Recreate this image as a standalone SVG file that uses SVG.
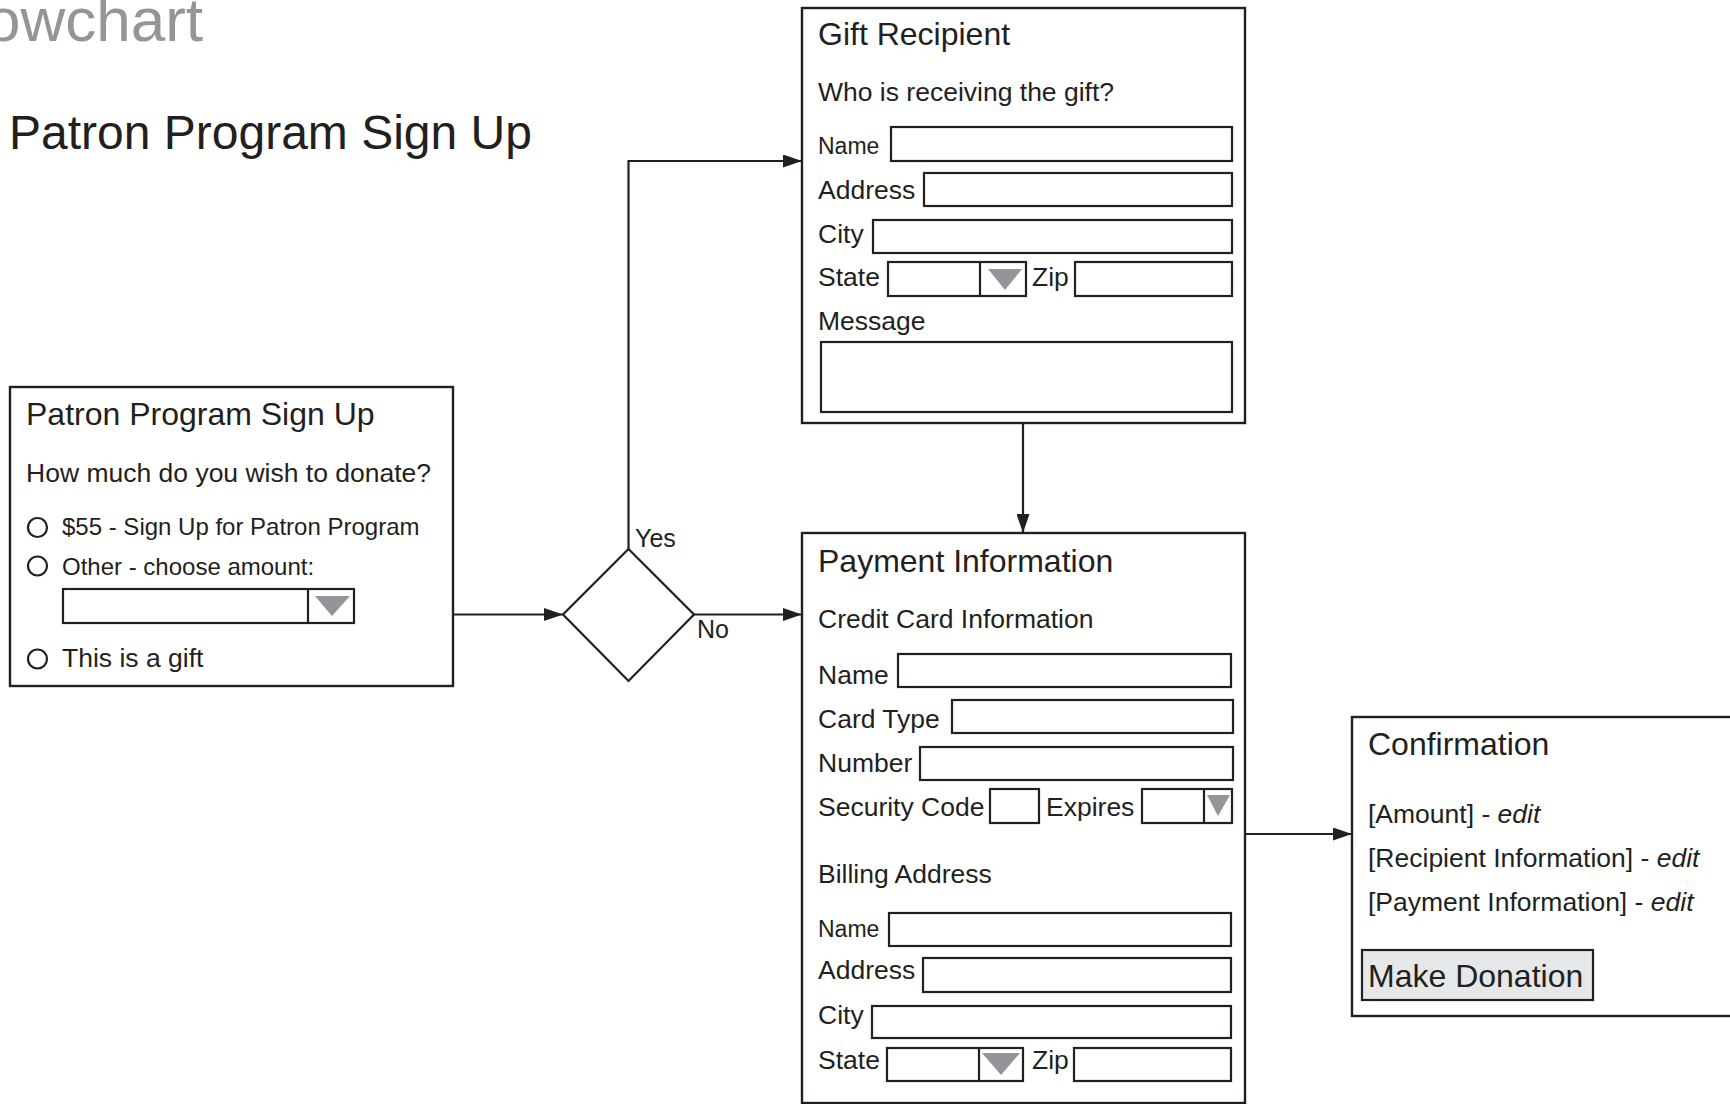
<svg xmlns="http://www.w3.org/2000/svg" width="1730" height="1104" viewBox="0 0 1730 1104">
  <defs>
    <marker id="arrow" markerUnits="userSpaceOnUse" markerWidth="19" markerHeight="13" refX="19" refY="6.5" orient="auto">
      <path d="M0,0 L19,6.5 L0,13 z" fill="#231f20"/>
    </marker>
    <style>
      text { font-family: "Liberation Sans", Arial, Helvetica, sans-serif; fill: #231f20; }
      .page { fill: #939598; font-size: 62px; }
      .heading { font-size: 48px; }
      .title { font-size: 32px; }
      .body { font-size: 26.5px; }
      .small { font-size: 24px; }
      .lbl23 { font-size: 23px; }
      .edit { font-style: italic; }
      .box { fill: #ffffff; stroke: #231f20; stroke-width: 2.4; }
      .field { fill: #ffffff; stroke: #231f20; stroke-width: 2.2; }
      .div { stroke: #231f20; stroke-width: 2.2; }
      .tri { fill: #939598; }
      .radio { fill: none; stroke: #231f20; stroke-width: 2.2; }
      .button { fill: #e6e7e8; stroke: #231f20; stroke-width: 2.2; }
      .link { fill: none; stroke: #231f20; stroke-width: 2.2; }
      .label { font-size: 25px; }
    </style>
  </defs>

  <rect width="1730" height="1104" fill="#ffffff"/>

  <text class="page" x="-14" y="41">owchart</text>
  <text class="heading" x="9" y="149">Patron Program Sign Up</text>

  <!-- connectors -->
  <g id="connectors">
    <path class="link" d="M453,614.5 H563" marker-end="url(#arrow)"/>
    <path class="link" d="M628.5,549 V161 H802" marker-end="url(#arrow)"/>
    <path class="link" d="M694,614.5 H802" marker-end="url(#arrow)"/>
    <path class="link" d="M1023,423 V533" marker-end="url(#arrow)"/>
    <path class="link" d="M1245,834 H1352" marker-end="url(#arrow)"/>
    <text class="label" x="635" y="547">Yes</text>
    <text class="label" x="697" y="638">No</text>
  </g>

  <!-- sign-up form -->
  <g id="signup">
    <rect class="box" x="10" y="387" width="443" height="299"/>
    <text class="title" x="26" y="425">Patron Program Sign Up</text>
    <text class="body" x="26" y="482">How much do you wish to donate?</text>
    <circle class="radio" cx="37.5" cy="527.5" r="9.5"/>
    <text class="small" x="62" y="535">$55 - Sign Up for Patron Program</text>
    <circle class="radio" cx="37.5" cy="566" r="9.5"/>
    <text class="small" x="62" y="575">Other - choose amount:</text>
    <rect class="field" x="63" y="589" width="291" height="34"/>
    <line class="div" x1="308" y1="589" x2="308" y2="623"/>
    <polygon class="tri" points="315,596 350,596 332,616"/>
    <circle class="radio" cx="37.5" cy="659" r="9.5"/>
    <text class="body" x="62" y="667">This is a gift</text>
  </g>

  <!-- decision -->
  <g id="decision">
    <polygon points="628.5,549 694,614.5 628.5,681 563,614.5" fill="#ffffff" stroke="#231f20" stroke-width="2.2"/>
  </g>

  <!-- gift recipient form -->
  <g id="gift">
    <rect class="box" x="802" y="8" width="443" height="415"/>
    <text class="title" x="818" y="45">Gift Recipient</text>
    <text class="body" x="818" y="101">Who is receiving the gift?</text>
    <text class="lbl23" x="818" y="154">Name</text>
    <rect class="field" x="891" y="127" width="341" height="34"/>
    <text class="body" x="818" y="199">Address</text>
    <rect class="field" x="924" y="173" width="308" height="33"/>
    <text class="body" x="818" y="243">City</text>
    <rect class="field" x="873" y="220" width="359" height="33"/>
    <text class="body" x="818" y="286">State</text>
    <rect class="field" x="888" y="262" width="138" height="34"/>
    <line class="div" x1="980" y1="262" x2="980" y2="296"/>
    <polygon class="tri" points="988,269 1022,269 1005,290"/>
    <text class="body" x="1032" y="286">Zip</text>
    <rect class="field" x="1075" y="262" width="157" height="34"/>
    <text class="body" x="818" y="330">Message</text>
    <rect class="field" x="821" y="342" width="411" height="70"/>
  </g>

  <!-- payment form -->
  <g id="payment">
    <rect class="box" x="802" y="533" width="443" height="570"/>
    <text class="title" x="818" y="572">Payment Information</text>
    <text class="body" x="818" y="628">Credit Card Information</text>
    <text class="body" x="818" y="684">Name</text>
    <rect class="field" x="898" y="654" width="333" height="33"/>
    <text class="body" x="818" y="728">Card Type</text>
    <rect class="field" x="952" y="700" width="281" height="33"/>
    <text class="body" x="818" y="772">Number</text>
    <rect class="field" x="920" y="747" width="313" height="33"/>
    <text class="body" x="818" y="816">Security Code</text>
    <rect class="field" x="990" y="789" width="49" height="34"/>
    <text class="body" x="1046" y="816">Expires</text>
    <rect class="field" x="1142" y="789" width="90" height="34"/>
    <line class="div" x1="1204" y1="789" x2="1204" y2="823"/>
    <polygon class="tri" points="1207,795 1230,795 1218,816"/>
    <text class="body" x="818" y="883">Billing Address</text>
    <text class="lbl23" x="818" y="937">Name</text>
    <rect class="field" x="889" y="913" width="342" height="33"/>
    <text class="body" x="818" y="979">Address</text>
    <rect class="field" x="923" y="958" width="308" height="34"/>
    <text class="body" x="818" y="1024">City</text>
    <rect class="field" x="872" y="1006" width="359" height="32"/>
    <text class="body" x="818" y="1069">State</text>
    <rect class="field" x="887" y="1048" width="136" height="33"/>
    <line class="div" x1="979" y1="1048" x2="979" y2="1081"/>
    <polygon class="tri" points="982,1053 1020,1053 1001,1075"/>
    <text class="body" x="1032" y="1069">Zip</text>
    <rect class="field" x="1074" y="1048" width="157" height="33"/>
  </g>

  <!-- confirmation -->
  <g id="confirmation">
    <rect class="box" x="1352" y="717" width="420" height="299"/>
    <text class="title" x="1368" y="755">Confirmation</text>
    <text class="body" x="1368" y="823">[Amount] - <tspan class="edit">edit</tspan></text>
    <text class="body" x="1368" y="867">[Recipient Information] - <tspan class="edit">edit</tspan></text>
    <text class="body" x="1368" y="911">[Payment Information] - <tspan class="edit">edit</tspan></text>
    <rect class="button" x="1362" y="950" width="231" height="50"/>
    <text class="title" x="1368" y="987">Make Donation</text>
  </g>
</svg>
